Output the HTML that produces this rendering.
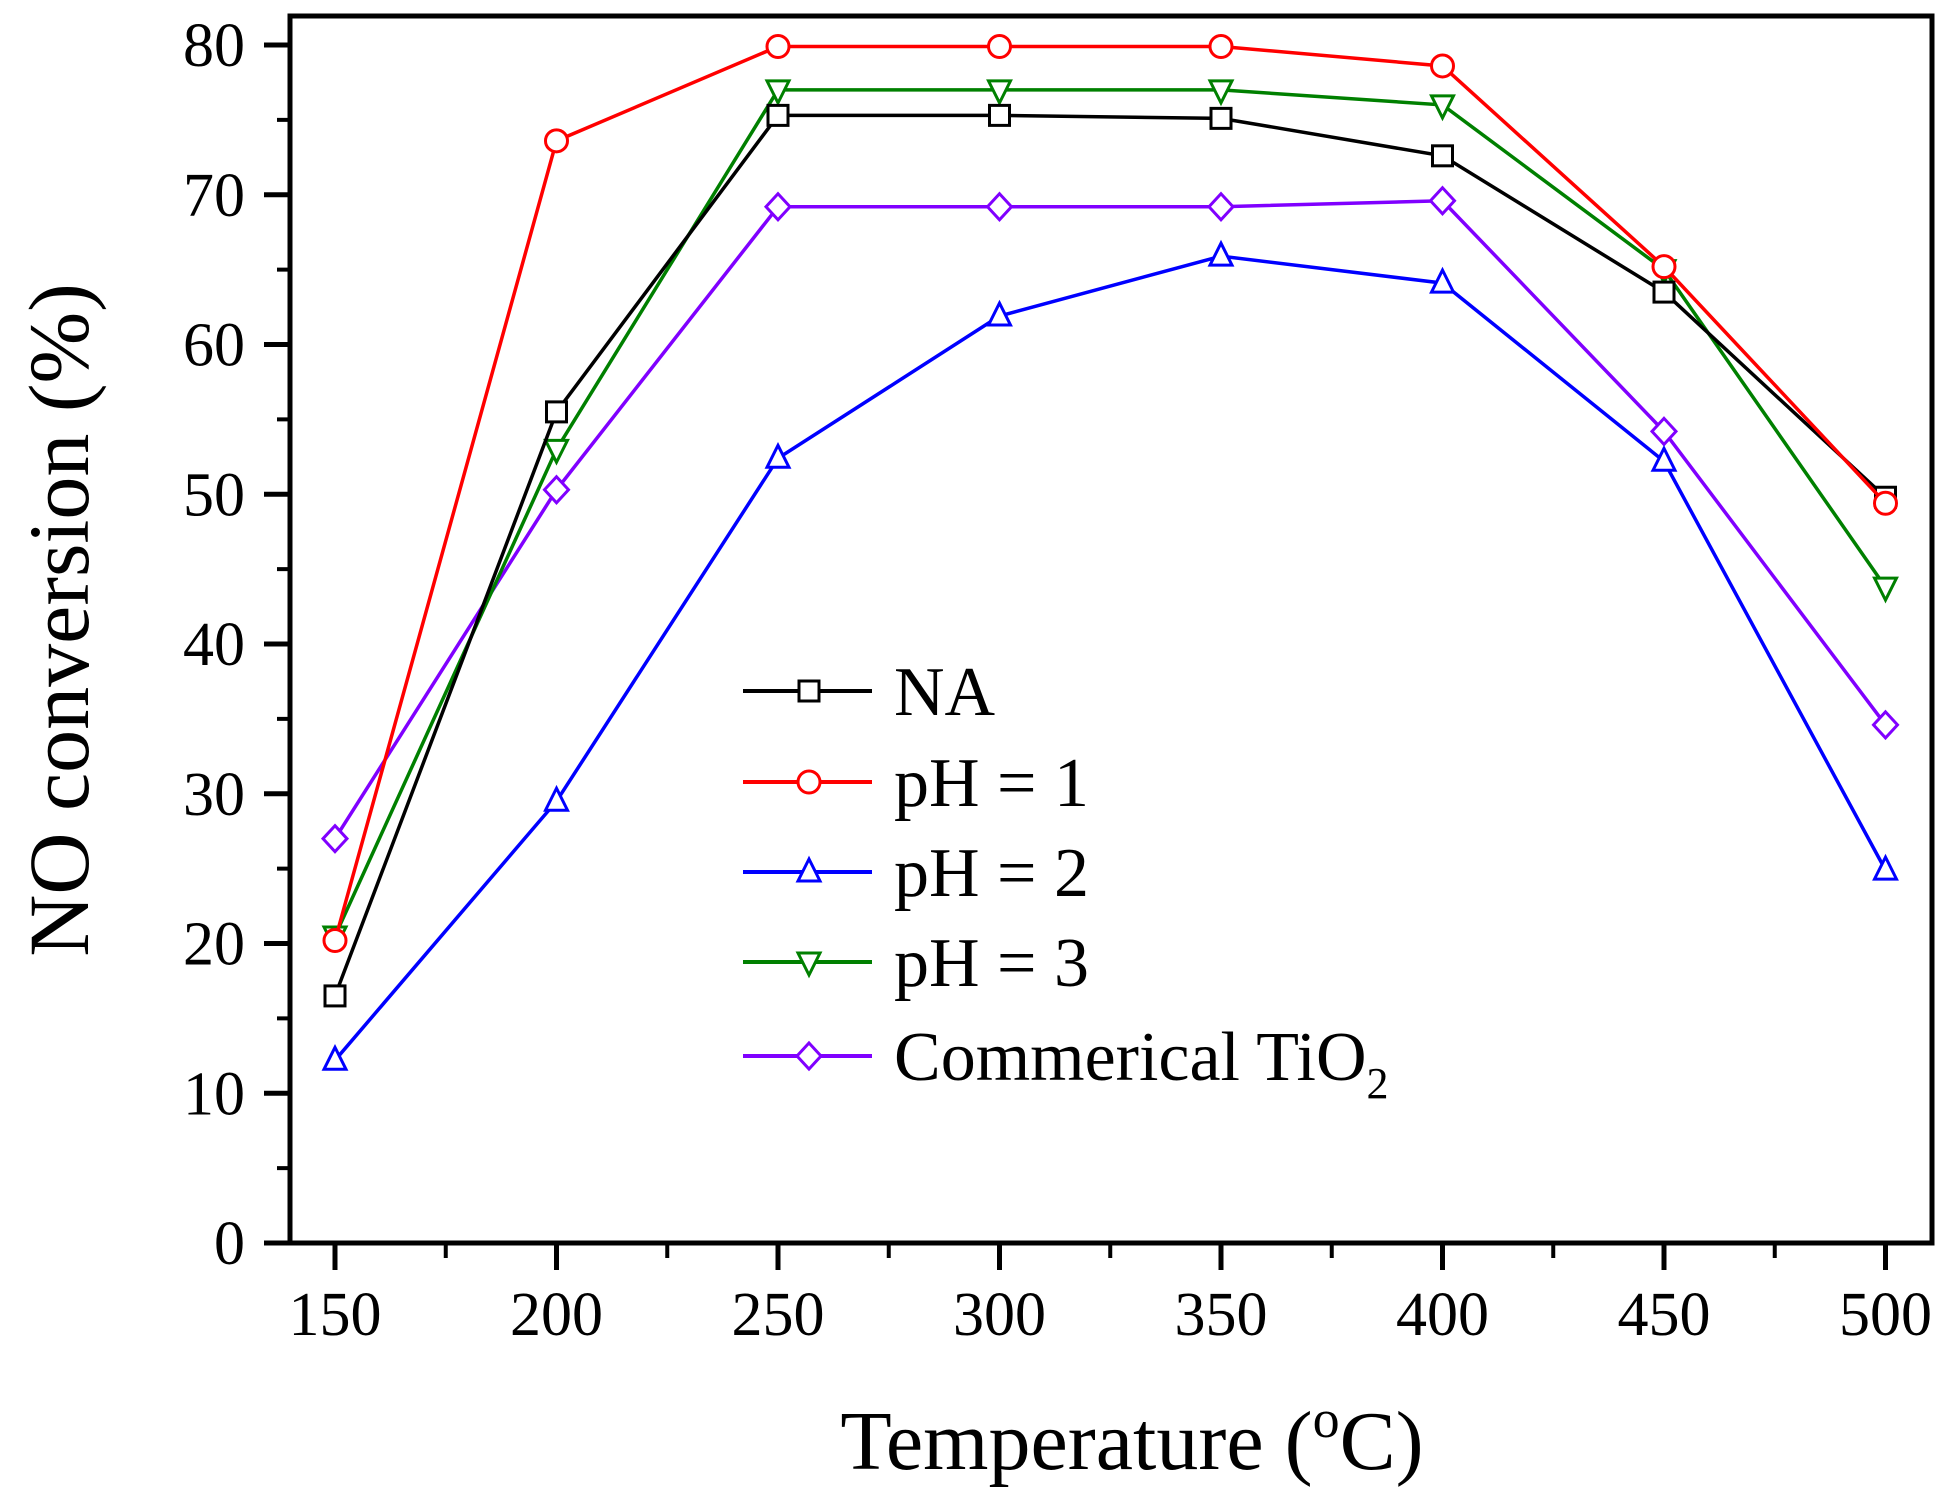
<!DOCTYPE html>
<html><head><meta charset="utf-8"><style>
html,body{margin:0;padding:0;background:#fff;}
svg{display:block;font-family:"Liberation Serif",serif;}
</style></head><body>
<svg id="chart" width="1952" height="1500" viewBox="0 0 1952 1500" xmlns="http://www.w3.org/2000/svg">
<g id="axes"></g>
<g id="series"></g>
<g id="legend"></g>
<text transform="translate(88,620) rotate(-90)" text-anchor="middle" font-size="86">NO conversion (%)</text>
<text x="1132" y="1469" text-anchor="middle" font-size="84">Temperature (<tspan font-size="54" dy="-32">o</tspan><tspan dy="32">C)</tspan></text>
</svg>
<script>
const temps = [150,200,250,300,350,400,450,500];
const seriesNames = ["NA","pH = 1","pH = 2","pH = 3","Commerical TiO"];
const naValues = [16.5,55.5,75.3,75.3,75.1,72.6,63.5,49.8];
const ph1Values = [20.2,73.6,79.9,79.9,79.9,78.6,65.2,49.4];
const ph2Values = [12.2,29.5,52.4,61.9,65.9,64.1,52.2,24.9];
const ph3Values = [20.5,53.0,77.0,77.0,77.0,76.0,65.0,43.8];
const tio2Values = [27.0,50.3,69.2,69.2,69.2,69.6,54.2,34.6];
const yTicks = [0,10,20,30,40,50,60,70,80];
const xTicks = [150,200,250,300,350,400,450,500];

const NS="http://www.w3.org/2000/svg";
const L=290,R=1932,T=16,B=1243;
function xs(v){return 335+(v-150)*(1885.5-335)/350;}
function ys(v){return 1243-v*(1243-45)/80;}
function mk(tag,attrs,parent){const e=document.createElementNS(NS,tag);for(const k in attrs)e.setAttribute(k,attrs[k]);parent.appendChild(e);return e;}
const axes=document.getElementById('axes');
const fr=mk('rect',{x:L,y:T,width:R-L,height:B-T,fill:'none',stroke:'#000','stroke-width':5},axes);


yTicks.forEach(v=>{
  const t=mk('line',{x1:L-26,x2:L,y1:ys(v),y2:ys(v),stroke:'#000','stroke-width':5},axes);
  
  
  if(v<80){const m=mk('line',{x1:L-13,x2:L,y1:ys(v+5),y2:ys(v+5),stroke:'#000','stroke-width':4},axes);
  
  }
  const lb=mk('text',{x:L-45,y:ys(v)+21,'text-anchor':'end','font-size':62},axes);
  lb.textContent=v;
  
  
});
xTicks.forEach((v,i)=>{
  const t=mk('line',{x1:xs(v),x2:xs(v),y1:B,y2:B+27,stroke:'#000','stroke-width':5},axes);
  
  
  if(i<xTicks.length-1){const m=mk('line',{x1:xs(v+25),x2:xs(v+25),y1:B,y2:B+15,stroke:'#000','stroke-width':4},axes);
  
  }
  const lb=mk('text',{x:xs(v),y:1335,'text-anchor':'middle','font-size':62},axes);
  lb.textContent=v;
  
  
});
const colors=['#000000','#ff0000','#0000ff','#008000','#8000ff'];
const shapes=['square','circle','up','down','diamond'];
const allVals=[naValues,ph1Values,ph2Values,ph3Values,tio2Values];
function marker(shape,x,y,c,parent){
  const s=11;let e;
  if(shape==='square')e=mk('rect',{x:x-s+1,y:y-s+1,width:2*s-2,height:2*s-2},parent);
  else if(shape==='circle')e=mk('circle',{cx:x,cy:y,r:s},parent);
  else if(shape==='up')e=mk('polygon',{points:`${x},${y-s-2} ${x-s},${y+s-2} ${x+s},${y+s-2}`},parent);
  else if(shape==='down')e=mk('polygon',{points:`${x},${y+s+2} ${x-s},${y-s+2} ${x+s},${y-s+2}`},parent);
  else e=mk('polygon',{points:`${x},${y-s-2} ${x+s+1},${y} ${x},${y+s+2} ${x-s-1},${y}`},parent);
  e.setAttribute('fill','#fff');e.setAttribute('stroke',c);e.setAttribute('stroke-width',3);
  return e;
}
const sg=document.getElementById('series');
const order=[4,2,3,0,1];
order.forEach(k=>{
  const g=mk('g',{},sg);
  
  
  const pts=temps.map((t,i)=>xs(t)+','+ys(allVals[k][i])).join(' ');
  const pl=mk('polyline',{points:pts,fill:'none',stroke:colors[k],'stroke-width':3.5},g);
  
  
  temps.forEach((t,i)=>{
    const m=marker(shapes[k],xs(t),ys(allVals[k][i]),colors[k],g);
    
    
  });
});
const lg=document.getElementById('legend');
const rowY=[691,782,872,962,1056];
seriesNames.forEach((n,k)=>{
  const g=mk('g',{},lg);
  
  
  mk('line',{x1:743,x2:872,y1:rowY[k],y2:rowY[k],stroke:colors[k],'stroke-width':4},g);
  marker(shapes[k],809,rowY[k],colors[k],g);
  const t=mk('text',{x:894,y:rowY[k]+24,'font-size':70},g);
  t.textContent=n;
  if(k===4){const s=mk('tspan',{'font-size':44,dy:18},t);s.textContent='2';}
});
</script>
</body></html>
